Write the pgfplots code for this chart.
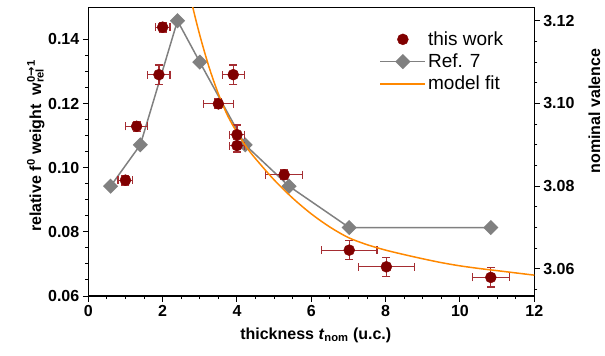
\documentclass[border=0pt]{standalone}
\usepackage{pgfplots}
\pgfplotsset{compat=1.18}
\usepackage{pgfplotstable}
\usepackage{fontspec}
\setmainfont{Liberation Sans}
\newfontfamily\dejavu{DejaVu Sans}
\definecolor{darkred}{RGB}{128,0,0}
\definecolor{errred}{RGB}{165,45,50}
\definecolor{refgray}{RGB}{128,128,128}
\definecolor{fitorange}{RGB}{255,136,0}

\pgfplotstableread{
x y xerr yerr
1.0 0.0961 0.2 0.0015
1.3 0.1129 0.3 0.0015
1.9 0.1290 0.3 0.003
2.0 0.1438 0.2 0.0015
3.5 0.1199 0.4 0.0015
3.9 0.1290 0.3 0.003
4.0 0.1103 0.2 0.003
4.0 0.1069 0.2 0.002
5.27 0.0978 0.5 0.0015
7.02 0.0743 0.75 0.003
8.02 0.0691 0.75 0.003
10.83 0.0658 0.5 0.003
}\thiswork

\pgfplotstableread{
x y
0.6 3.08
1.4 3.09
2.4 3.12
3.0 3.11
4.22 3.09
5.4 3.08
7.02 3.07
10.83 3.07
}\refseven

\pgfplotstableread{
x y
2.70 0.1555
2.80 0.1505
3.00 0.1413
3.25 0.1313
3.50 0.1230
3.75 0.1162
4.00 0.1110
4.25 0.1065
4.50 0.1028
5.00 0.0962
5.50 0.0905
6.00 0.0856
6.50 0.0815
7.00 0.0782
7.50 0.0760
8.00 0.0743
8.50 0.0729
9.00 0.0716
9.50 0.0704
10.00 0.0694
10.50 0.0686
11.00 0.0679
11.50 0.0672
12.00 0.0665
}\modelfit

\pgfplotsset{
  common/.style={
    scale only axis, width=446pt, height=288.7pt,
    xmin=0, xmax=12,
    tick align=outside,
    major tick length=5.5pt, minor tick length=3pt,
    every tick/.style={black, line width=1pt},
    axis line style={line width=1.2pt},
    ticklabel style={font=\bfseries\fontsize{16}{19}\selectfont},
    /pgf/number format/assume math mode=true,
    label style={font=\bfseries\fontsize{16}{19}\selectfont},
  },
  workstyle/.style={only marks, mark=*, mark size=5.5pt, darkred,
    mark options={fill=darkred, draw=darkred}},
  refstyle/.style={refgray, line width=1.5pt, mark=square*, mark size=4.6pt,
    mark options={rotate=45, fill=refgray, draw=refgray}},
  fitstyle/.style={fitorange, line width=1.5pt, no marks},
}

\begin{document}
\begin{tikzpicture}
\useasboundingbox (-88.3pt,-60pt) rectangle (516.7pt,296pt);
% right axis: Ref. 7
\begin{axis}[common,
  axis x line=none,
  axis y line*=right,
  ymin=3.05345, ymax=3.12325,
  ytick={3.06,3.08,3.10,3.12},
  minor ytick={3.055,3.065,3.07,3.075,3.085,3.09,3.095,3.105,3.11,3.115},
  yticklabel style={/pgf/number format/.cd, fixed, fixed zerofill, precision=2},
  ylabel={nominal valence},
  ylabel style={at={(axis description cs:1.1345,0.64)}, anchor=center, rotate=0},
]
\addplot[refstyle] table[x=x,y=y]{\refseven};
\end{axis}
% left axis
\begin{axis}[common,
  ymin=0.06, ymax=0.15,
  xtick={0,2,...,12},
  minor x tick num=3,
  ytick={0.06,0.08,...,0.141},
  minor y tick num=3,
  xtick pos=left, ytick pos=left,
  yticklabel style={/pgf/number format/.cd, fixed, fixed zerofill, precision=2},
  xlabel={thickness \textit{t}\textsubscript{nom} (u.c.)},
  xlabel style={at={(axis description cs:0.51,-0.135)}, anchor=center},
  ylabel={relative f\textsuperscript{0} weight\ \ w\textsubscript{\rlap{rel}}\textsuperscript{0{\dejavu\bfseries →}1}},
  ylabel style={at={(axis description cs:-0.118,0.52)}, anchor=center},
  legend style={at={(axis description cs:0.646,0.93)}, anchor=north west,
    draw=none, fill=none, font=\fontsize{19}{22}\selectfont, row sep=3pt},
  legend cell align=left,
  legend image code/.code={\draw[mark repeat=2,mark phase=2,#1] plot coordinates {(0pt,0pt) (22.5pt,0pt) (45pt,0pt)};},
]
\addplot[workstyle, forget plot,
  error bars/.cd, x dir=both, x explicit, y dir=both, y explicit,
  error bar style={errred, line width=1.2pt},
  error mark options={rotate=90, errred, mark size=4pt, line width=1.2pt}]
  table[x=x, y=y, x error=xerr, y error=yerr]{\thiswork};
\addplot[fitstyle, smooth, forget plot] table[x=x,y=y]{\modelfit};
\addlegendimage{workstyle}
\addlegendentry{this work}
\addlegendimage{refstyle}
\addlegendentry{Ref. 7}
\addlegendimage{fitstyle}
\addlegendentry{model fit}
\end{axis}
\end{tikzpicture}
\end{document}
